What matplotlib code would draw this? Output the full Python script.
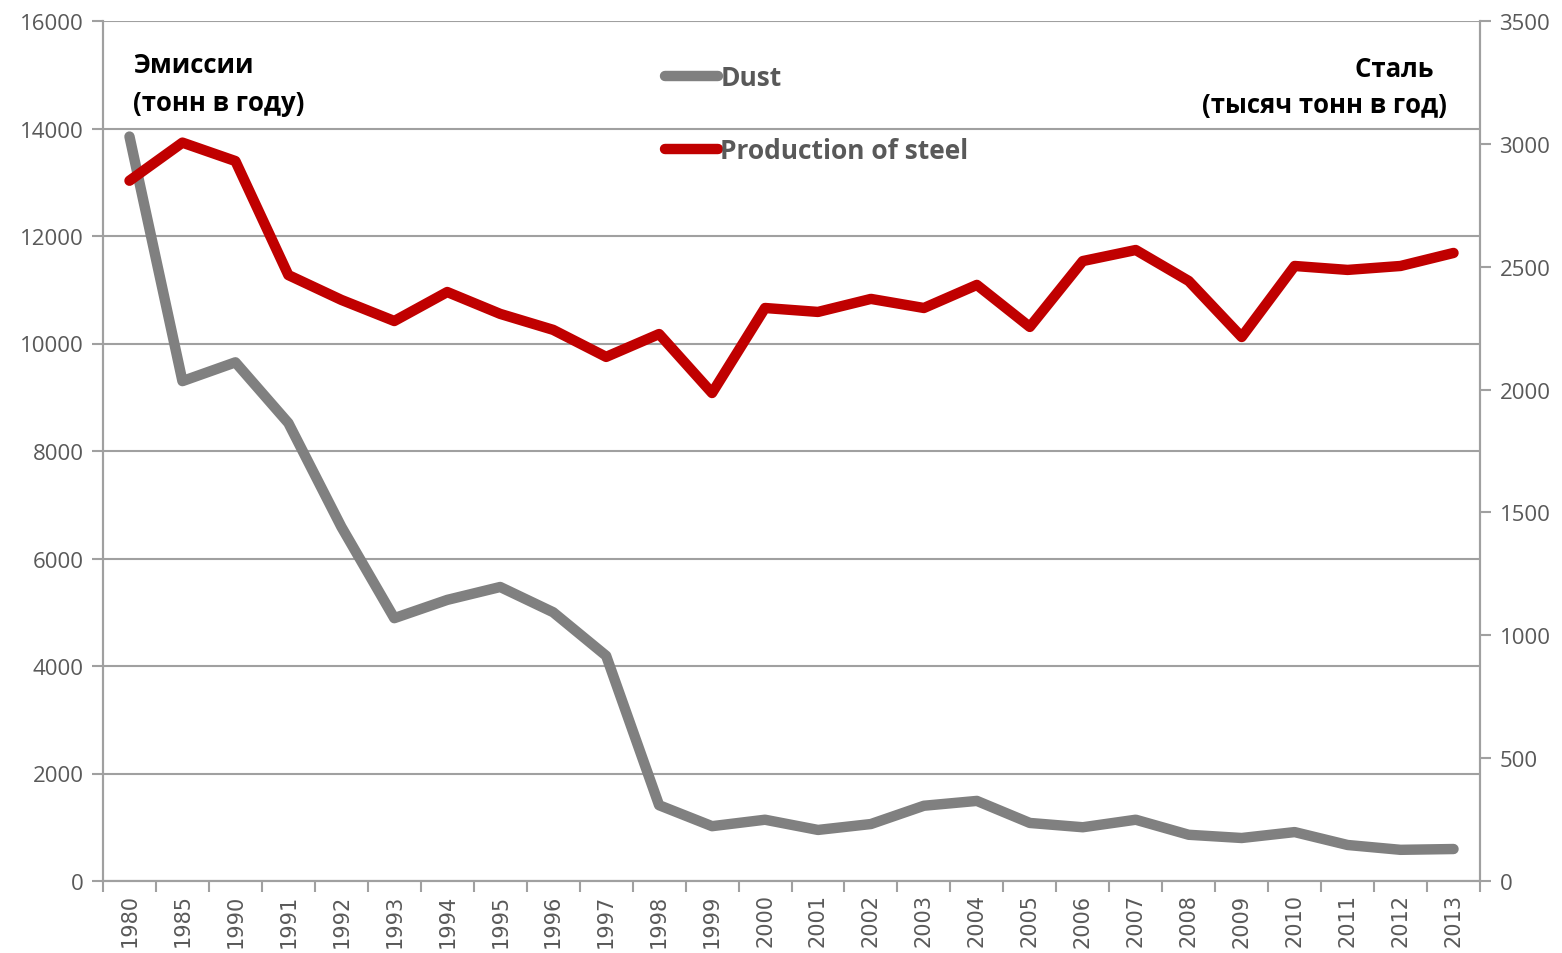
import numpy as np
import matplotlib.pyplot as plt

years = ['1980', '1985', '1990', '1991', '1992', '1993', '1994', '1995', '1996',
         '1997', '1998', '1999', '2000', '2001', '2002', '2003', '2004', '2005',
         '2006', '2007', '2008', '2009', '2010', '2011', '2012', '2013']
dust = [13850, 9300, 9650, 8520, 6590, 4890, 5230, 5470, 5000, 4190, 1410, 1020,
        1140, 950, 1060, 1400, 1490, 1080, 1000, 1140, 860, 800, 910, 670, 580, 595]
steel = [2850, 3005, 2930, 2466, 2365, 2279, 2397, 2308, 2243, 2133, 2226, 1986,
         2332, 2316, 2369, 2332, 2426, 2255, 2523, 2568, 2442, 2214, 2503, 2487,
         2503, 2556]

grey = '#808080'
red = '#C00000'
txt = '#595959'
axc = '#A0A0A0'

fig = plt.figure(figsize=(15.62, 9.54), dpi=100)
ax = fig.add_axes([103 / 1562, 1 - 882 / 954, 1377 / 1562, 860 / 954])
ax2 = ax.twinx()

x = np.arange(len(years))
l1, = ax.plot(x, dust, color=grey, lw=7.5, solid_capstyle='round',
              solid_joinstyle='round', label='Dust', zorder=3)
l2, = ax2.plot(x, steel, color=red, lw=7.5, solid_capstyle='round',
               solid_joinstyle='round', label='Production of steel', zorder=3)

ax.set_xlim(-0.5, len(years) - 0.5)
ax.set_ylim(0, 16000)
ax2.set_ylim(0, 3500)
ax.set_yticks(np.arange(0, 16001, 2000))
ax2.set_yticks(np.arange(0, 3501, 500))
ax.yaxis.grid(True, color=axc, lw=1.5)
ax.set_axisbelow(True)

ax.set_xticks(x)
ax.set_xticklabels(years, rotation=90, fontsize=15, color=txt,
                   fontfamily='DejaVu Sans')
ax.set_xticks(np.arange(-0.5, len(years), 1), minor=True)
ax.tick_params(axis='x', which='major', length=0, pad=9)
ax.tick_params(axis='x', which='minor', length=8, color=axc, width=1.5)
ax.tick_params(axis='y', length=8, color=axc, width=1.5, labelsize=16,
               labelcolor=txt, pad=6)
ax2.tick_params(axis='y', length=8, color=axc, width=1.5, labelsize=16,
                labelcolor=txt, pad=6)
for lab in ax.get_yticklabels() + ax2.get_yticklabels():
    lab.set_fontfamily('Open Sans')

for a in (ax, ax2):
    a.spines['top'].set_visible(False)
    for s in ['left', 'right', 'bottom']:
        a.spines[s].set_color(axc)
        a.spines[s].set_linewidth(1.5)

ax.text(30 / 1377, 1 - 30 / 860, 'Эмиссии\n(тонн в году)', transform=ax.transAxes,
        fontsize=18.5, fontweight='bold', fontfamily='Open Sans', va='top',
        ha='left', linespacing=1.5)
ax.text(1 - 33 / 1377, 1 - 34 / 860, 'Сталь  \n(тысяч тонн в год)', transform=ax.transAxes,
        fontsize=18.5, fontweight='bold', fontfamily='Open Sans', va='top',
        ha='right', multialignment='right', linespacing=1.45)

leg = ax2.legend(handles=[l1, l2], loc='upper left',
                 bbox_to_anchor=(665 / 1562, 1 - 65 / 954),
                 bbox_transform=fig.transFigure, frameon=False,
                 handlelength=2.0, handletextpad=0.1, labelspacing=1.75,
                 borderpad=0, borderaxespad=0,
                 prop={'family': 'Open Sans', 'weight': 'bold', 'size': 19})
for t in leg.get_texts():
    t.set_color(txt)

fig.savefig('out.png', dpi=100)
